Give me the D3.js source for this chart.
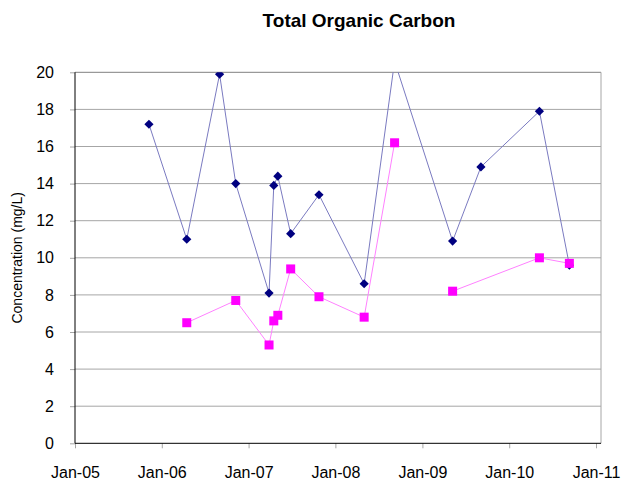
<!DOCTYPE html>
<html>
<head>
<meta charset="utf-8">
<script src="https://cdn.jsdelivr.net/npm/d3@7"></script>
<style>
  body { margin: 0; background: #fff; }
  text { font-family: "Liberation Sans", Arial, sans-serif; }
</style>
</head>
<body>
<div id="chart"></div>
<script>
// navy series (diamonds)
let navyDates = ["2005-11-08", "2006-04-16", "2006-09-01", "2006-11-08", "2007-03-28",
  "2007-04-17", "2007-05-04", "2007-06-27", "2007-10-24", "2008-05-01",
  "2008-09-06", "2009-05-08", "2009-09-04", "2010-05-08", "2010-09-11"];
let navyValues = [17.2, 11.0, 19.9, 14.0, 8.1, 13.9, 14.4, 11.3, 13.4, 8.6, 20.6, 10.9, 14.9, 17.9, 9.6];

// magenta series (squares), null = break in the line
let pinkDates = ["2006-04-16", "2006-11-08", "2007-03-28", "2007-04-17", "2007-05-04",
  "2007-06-27", "2007-10-24", "2008-05-01", "2008-09-06", "2009-01-01",
  "2009-05-08", "2010-05-08", "2010-09-11"];
let pinkValues = [6.5, 7.7, 5.3, 6.6, 6.9, 9.4, 7.9, 6.8, 16.2, null, 8.2, 10.0, 9.7];

let yTicks = [0, 2, 4, 6, 8, 10, 12, 14, 16, 18, 20];
let xTickYears = [2005, 2006, 2007, 2008, 2009, 2010, 2011];

let w = 628, h = 484;
let plotLeft = 75, plotRight = 601, plotTop = 72.3, plotBottom = 443.3;

let parse = d3.timeParse("%Y-%m-%d");
let navy = navyDates.map(function(d, i) { return { date: parse(d), value: navyValues[i] }; });
let pink = pinkDates.map(function(d, i) { return { date: parse(d), value: pinkValues[i] }; });

let svg = d3.select("#chart").append("svg")
  .attr("width", w)
  .attr("height", h);

let xScale = d3.scaleTime()
  .domain([new Date(2005, 0, 1), new Date(2011, 0, 22)])
  .range([plotLeft, plotRight]);

let yScale = d3.scaleLinear()
  .domain([0, 20])
  .range([plotBottom, plotTop]);

// gridlines
svg.append("g")
  .selectAll("line")
  .data(yTicks.filter(function(d) { return d > 0; }))
  .enter().append("line")
  .attr("x1", plotLeft).attr("x2", plotRight)
  .attr("y1", function(d) { return yScale(d); })
  .attr("y2", function(d) { return yScale(d); })
  .attr("stroke", function(d) { return d == 20 ? "#808080" : "#a6a6a6"; })
  .attr("stroke-width", 1);

// right border
svg.append("line")
  .attr("x1", plotRight).attr("x2", plotRight)
  .attr("y1", plotTop).attr("y2", plotBottom)
  .attr("stroke", "#a6a6a6");

// axes
let xAxis = d3.axisBottom(xScale)
  .tickValues(xTickYears.map(function(y) { return new Date(y, 0, 1); }))
  .tickFormat(d3.timeFormat("%b-%y"))
  .tickSize(5)
  .tickPadding(18);

let yAxis = d3.axisLeft(yScale)
  .tickValues(yTicks)
  .tickSize(5)
  .tickPadding(16);

let gx = svg.append("g")
  .attr("transform", "translate(0," + plotBottom + ")")
  .call(xAxis);
gx.select(".domain").remove();
gx.selectAll(".tick line").attr("stroke", "#a6a6a6");
gx.selectAll("text").attr("font-size", "16px").attr("fill", "#000");

let gy = svg.append("g")
  .attr("transform", "translate(" + plotLeft + ",0)")
  .call(yAxis);
gy.select(".domain").remove();
gy.selectAll(".tick line").attr("stroke", "#a6a6a6");
gy.selectAll("text").attr("font-size", "16px").attr("fill", "#000");

svg.append("line")
  .attr("x1", plotLeft).attr("x2", plotLeft)
  .attr("y1", plotTop).attr("y2", plotBottom)
  .attr("stroke", "#000");
svg.append("line")
  .attr("x1", plotLeft).attr("x2", plotRight)
  .attr("y1", plotBottom).attr("y2", plotBottom)
  .attr("stroke", "#000");

// clip to plot area
svg.append("clipPath").attr("id", "plot")
  .append("rect")
  .attr("x", plotLeft - 6).attr("y", plotTop)
  .attr("width", plotRight - plotLeft + 12).attr("height", plotBottom - plotTop + 6);

let plot = svg.append("g").attr("clip-path", "url(#plot)");

let line = d3.line()
  .defined(function(d) { return d.value != null; })
  .x(function(d) { return xScale(d.date); })
  .y(function(d) { return yScale(d.value); });

plot.append("path")
  .datum(navy)
  .attr("d", line)
  .attr("fill", "none")
  .attr("stroke", "#7a7ac0")
  .attr("stroke-width", 1);

plot.selectAll(".diamond")
  .data(navy)
  .enter().append("path")
  .attr("class", "diamond")
  .attr("d", d3.symbol().type(d3.symbolDiamond2).size(54))
  .attr("transform", function(d) {
    return "translate(" + xScale(d.date) + "," + yScale(d.value) + ")";
  })
  .attr("fill", "#000080");

plot.append("path")
  .datum(pink)
  .attr("d", line)
  .attr("fill", "none")
  .attr("stroke", "#ff80ff")
  .attr("stroke-width", 1);

plot.selectAll(".square")
  .data(pink.filter(function(d) { return d.value != null; }))
  .enter().append("rect")
  .attr("class", "square")
  .attr("x", function(d) { return xScale(d.date) - 4.5; })
  .attr("y", function(d) { return yScale(d.value) - 4.5; })
  .attr("width", 9)
  .attr("height", 9)
  .attr("fill", "#ff00ff");

// titles
svg.append("text")
  .attr("x", 359)
  .attr("y", 27)
  .attr("text-anchor", "middle")
  .attr("font-size", "19px")
  .attr("font-weight", "bold")
  .text("Total Organic Carbon");

svg.append("text")
  .attr("transform", "translate(22," + ((plotTop + plotBottom) / 2) + ") rotate(-90)")
  .attr("text-anchor", "middle")
  .attr("font-size", "14px")
  .text("Concentration (mg/L)");
</script>
</body>
</html>
